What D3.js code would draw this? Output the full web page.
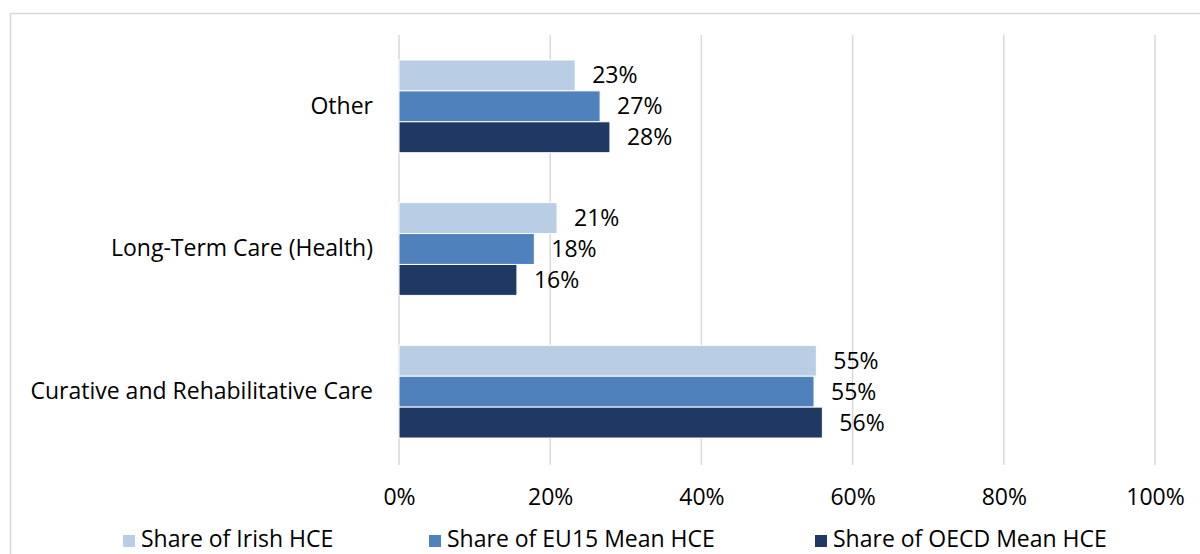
<!DOCTYPE html>
<html><head><meta charset="utf-8">
<script src="https://cdn.jsdelivr.net/npm/d3@7"></script>
<style>body{margin:0;background:#fff}svg{display:block}text{font-family:"Open Sans",sans-serif;fill:#000}</style>
</head><body>
<svg id="c" width="1200" height="554"></svg>
<script>
const categories = ["Other", "Long-Term Care (Health)", "Curative and Rehabilitative Care"];
const seriesNames = ["Share of Irish HCE", "Share of EU15 Mean HCE", "Share of OECD Mean HCE"];
const irish = [0.233, 0.209, 0.552];
const eu15 = [0.266, 0.179, 0.549];
const oecd = [0.279, 0.156, 0.560];
const tickValues = [0, 0.2, 0.4, 0.6, 0.8, 1.0];
const colors = ["#B9CDE5", "#4F81BD", "#203864"];

const seriesValues = [irish, eu15, oecd];
const svg = d3.select("#c");
const fs = 23;

svg.append("rect").attr("x", 10.5).attr("y", 13.5).attr("width", 1200).attr("height", 600)
  .attr("fill", "#fff").attr("stroke", "#d9d9d9").attr("stroke-width", 1.5);

const x = d3.scaleLinear().domain([0, 1]).range([399, 1155]);
const y = d3.scaleBand().domain(categories).range([35, 463]).paddingInner(0.35).paddingOuter(0.175);
const ys = d3.scaleBand().domain(seriesNames).range([0, y.bandwidth()]);

// gridlines
svg.append("g").selectAll("line").data(tickValues).join("line")
  .attr("x1", d => x(d)).attr("x2", d => x(d)).attr("y1", 35).attr("y2", 465)
  .attr("stroke", "#d9d9d9").attr("stroke-width", 1.5);

// x axis labels
const xAxis = d3.axisBottom(x).tickValues(tickValues).tickFormat(d3.format(".0%")).tickSize(0).tickPadding(0);
const gx = svg.append("g").attr("transform", "translate(0,489)").call(xAxis);
gx.select(".domain").remove();
gx.selectAll("text").attr("font-size", fs).attr("font-family", '"Open Sans",sans-serif').attr("fill", "#000").attr("dy", "0.7em").attr("y", 0);

// y axis labels
const yAxis = d3.axisLeft(y).tickSize(0).tickPadding(0);
const gy = svg.append("g").attr("transform", "translate(373,0)").call(yAxis);
gy.select(".domain").remove();
gy.selectAll("text").attr("font-size", fs).attr("font-family", '"Open Sans",sans-serif').attr("fill", "#000");

// bars
const fmt = d3.format(".0%");
seriesNames.forEach((s, si) => {
  const g = svg.append("g");
  const data = categories.map((c, ci) => ({c, v: seriesValues[si][ci]}));
  g.selectAll("rect").data(data).join("rect")
    .attr("x", x(0)).attr("y", d => y(d.c) + ys(s))
    .attr("width", d => x(d.v) - x(0)).attr("height", ys.bandwidth())
    .attr("fill", colors[si]).attr("stroke", "#fff").attr("stroke-width", 1);
  g.selectAll("text").data(data).join("text")
    .attr("x", d => x(d.v) + 17).attr("y", d => y(d.c) + ys(s) + ys.bandwidth() / 2)
    .attr("dy", "0.35em").attr("font-size", fs).text(d => fmt(d.v));
});

// legend
const legX = [123, 429, 815];
const lg = svg.append("g");
seriesNames.forEach((s, i) => {
  lg.append("rect").attr("x", legX[i]).attr("y", 535).attr("width", 12).attr("height", 12).attr("fill", colors[i]);
  lg.append("text").attr("x", legX[i] + 18).attr("y", 547).attr("font-size", fs).text(s);
});
</script>
</body></html>
